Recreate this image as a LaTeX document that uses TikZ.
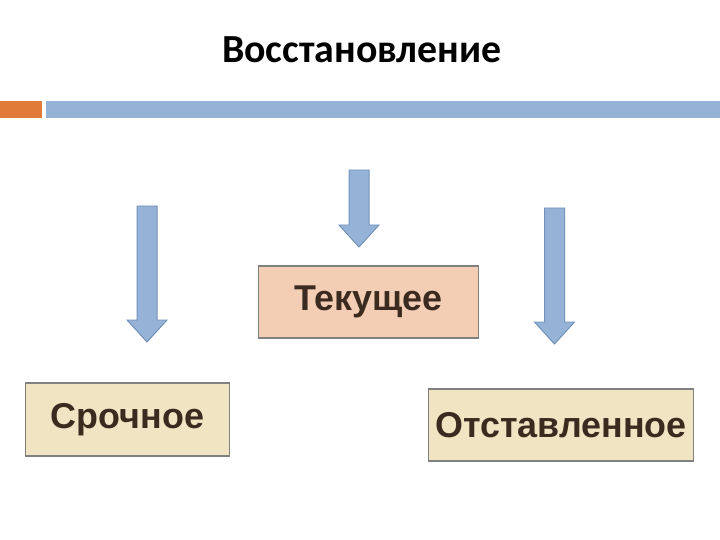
\documentclass[tikz,border=0pt]{standalone}
\usepackage{fontspec}
\setmainfont{Liberation Sans}
\newfontfamily\titlefont{Carlito}
\usepackage{tikz}
\usetikzlibrary{positioning}
\definecolor{barblue}{HTML}{95B3D7}
\definecolor{arrowedge}{HTML}{7392BA}
\definecolor{barorange}{HTML}{E07B39}
\definecolor{peach}{HTML}{F3CEB4}
\definecolor{tan}{HTML}{F0E4C2}
\definecolor{boxedge}{HTML}{808080}
\definecolor{inkbrown}{HTML}{3A2A1F}

\tikzset{
  kind/.style={draw=boxedge, line width=1.6pt, text=inkbrown,
    font=\bfseries\fontsize{36}{40}\selectfont, inner sep=0pt},
  pics/dnarrow/.style={code={
    \draw[fill=barblue, draw=arrowedge, line width=1pt]
      (-10,0) -- (10,0) -- (10,#1-22) -- (20,#1-22) -- (0,#1)
      -- (-20,#1-22) -- (-10,#1-22) -- cycle;
  }}
}

\begin{document}
\begin{tikzpicture}[x=1bp, y=-1bp]
  \useasboundingbox (0,0) rectangle (720,540);

  % Title and bar
  \node[font=\titlefont\bfseries\fontsize{40}{44}\selectfont] (title) at (362,50) {Восстановление};
  \fill[barorange] (0,101) rectangle (42,118);
  \fill[barblue] (46,101) rectangle (720,118);

  % Arrows
  \pic at (147,206) {dnarrow=136};
  \pic at (359,170) {dnarrow=77};
  \pic at (554.5,208) {dnarrow=136};

  % Boxes
  \node[kind, fill=peach, minimum width=221, minimum height=72] (current) at (368.5,302) {Текущее};
  \node[kind, fill=tan, minimum width=205, minimum height=73] (urgent) at (127.5,419.5) {Срочное};
  \node[kind, fill=tan, minimum width=266, minimum height=72] (deferred) at (561,425) {Отставленное};
\end{tikzpicture}
\end{document}
